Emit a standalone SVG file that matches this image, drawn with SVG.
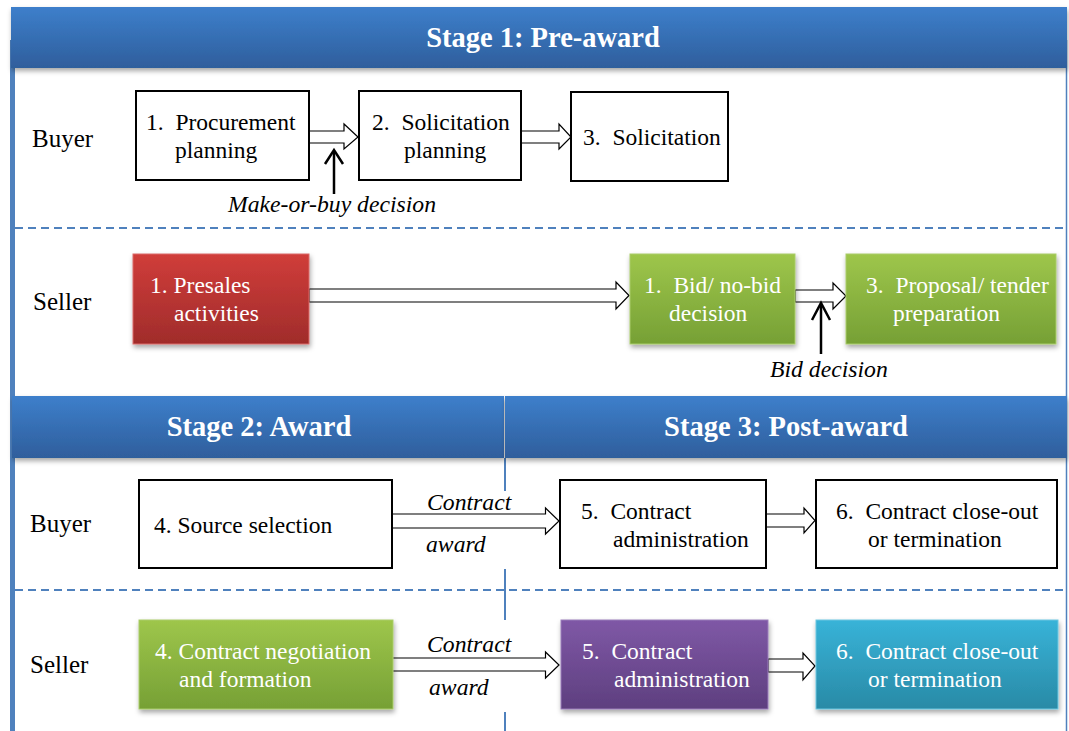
<svg xmlns="http://www.w3.org/2000/svg" width="1069" height="731" viewBox="0 0 1069 731">
<defs>
<linearGradient id="gHead" x1="0" y1="0" x2="0" y2="1"><stop offset="0" stop-color="#3d7fcb"/><stop offset="1" stop-color="#2f5e9c"/></linearGradient>
<linearGradient id="gRed" x1="0" y1="0" x2="0" y2="1"><stop offset="0" stop-color="#d03d3a"/><stop offset="1" stop-color="#a02c2b"/></linearGradient>
<linearGradient id="gGreen" x1="0" y1="0" x2="0" y2="1"><stop offset="0" stop-color="#9ec64b"/><stop offset="1" stop-color="#76a035"/></linearGradient>
<linearGradient id="gPurple" x1="0" y1="0" x2="0" y2="1"><stop offset="0" stop-color="#7f58a6"/><stop offset="1" stop-color="#5e3f7f"/></linearGradient>
<linearGradient id="gCyan" x1="0" y1="0" x2="0" y2="1"><stop offset="0" stop-color="#38b3d8"/><stop offset="1" stop-color="#298aa6"/></linearGradient>
<filter id="sh" x="-10%" y="-10%" width="120%" height="130%"><feDropShadow dx="1" dy="3" stdDeviation="2.5" flood-color="#000" flood-opacity="0.35"/></filter>
</defs>
<style>
.t{font-family:"Liberation Serif","Times New Roman",serif;font-size:23.5px;fill:#000;white-space:pre}
.w{fill:#fff}
.lab{font-family:"Liberation Serif","Times New Roman",serif;font-size:25px;fill:#000}
.it{font-family:"Liberation Serif","Times New Roman",serif;font-size:23.7px;font-style:italic;fill:#000}
.hd{font-family:"Liberation Serif","Times New Roman",serif;font-size:28.5px;font-weight:bold;fill:#fff;text-anchor:middle}
.box{fill:#fff;stroke:#000;stroke-width:2}
.blk{fill:#fff;stroke:#000;stroke-width:1.2}
.dash{stroke:#4f81bd;stroke-width:2;stroke-dasharray:8 5;fill:none}
.vline{stroke:#4f81bd;stroke-width:2;fill:none}
.up{stroke:#000;stroke-width:2.5;fill:none}
</style>

<g id="frame">
<rect x="10" y="40" width="5" height="691" fill="#4f81bd"/>
<line x1="1066.5" y1="40" x2="1066.5" y2="731" stroke="#4f81bd" stroke-width="1.5"/>
<line class="dash" x1="15" y1="228" x2="1066" y2="228"/>
<line class="dash" x1="15" y1="590" x2="1066" y2="590"/>
<line class="vline" x1="505" y1="458" x2="505" y2="491"/>
<line class="vline" x1="505" y1="569" x2="505" y2="620"/>
<line class="vline" x1="505" y1="712" x2="505" y2="731"/>
</g>

<g id="header1">
<rect x="11" y="7" width="1056" height="61" fill="url(#gHead)" filter="url(#sh)"/>
<text class="hd" x="543" y="47">Stage 1: Pre-award</text>
</g>
<g id="header2">
<rect x="12" y="396" width="492" height="62" fill="url(#gHead)" filter="url(#sh)"/>
<text class="hd" x="259" y="436">Stage 2: Award</text>
</g>
<g id="header3">
<rect x="505" y="396" width="562" height="62" fill="url(#gHead)" filter="url(#sh)"/>
<text class="hd" x="786" y="436">Stage 3: Post-award</text>
</g>

<g id="labels">
<text class="lab" x="32" y="147">Buyer</text>
<text class="lab" x="33" y="310">Seller</text>
<text class="lab" x="30" y="532">Buyer</text>
<text class="lab" x="30" y="673">Seller</text>
</g>

<g id="connectors">
<polygon class="blk" points="309,131 344,131 344,124 358,137 344,149 344,143 309,143"/>
<polygon class="blk" points="521,131 559,131 559,124 571,137 559,149 559,143 521,143"/>
<polygon class="blk" points="309,289 616,289 616,282 629,295.5 616,309 616,302 309,302"/>
<polygon class="blk" points="795,290 833,290 833,283 846,296 833,309 833,302 795,302"/>
<polygon class="blk" points="392,514 545.5,514 545.5,508 559,521 545.5,534 545.5,528 392,528"/>
<polygon class="blk" points="766,514 804,514 804,508 815,520.5 804,533 804,527 766,527"/>
<polygon class="blk" points="392,658 545.5,658 545.5,652 559,665 545.5,678 545.5,671 392,671"/>
<polygon class="blk" points="768,659 803,659 803,653 815,666 803,680 803,672 768,672"/>
<line class="up" x1="334" y1="194" x2="334" y2="151"/>
<polyline class="up" points="325,164 334,150 343,164"/>
<line class="up" x1="821" y1="354" x2="821" y2="304"/>
<polyline class="up" points="812,320 821,303 830,320"/>
<text class="it" x="228" y="212">Make-or-buy decision</text>
<text class="it" x="770" y="377">Bid decision</text>
<text class="it" x="427" y="510">Contract</text>
<text class="it" x="426" y="552">award</text>
<text class="it" x="427" y="652">Contract</text>
<text class="it" x="429" y="695">award</text>
</g>

<g id="n1">
<rect class="box" x="136" y="91" width="173" height="89"/>
<text class="t" x="146" y="130">1.  Procurement</text>
<text class="t" x="175" y="158">planning</text>
</g>
<g id="n2">
<rect class="box" x="359" y="91" width="162" height="89"/>
<text class="t" x="372" y="130">2.  Solicitation</text>
<text class="t" x="404" y="158">planning</text>
</g>
<g id="n3">
<rect class="box" x="571" y="92" width="157" height="89"/>
<text class="t" x="583" y="145">3.  Solicitation</text>
</g>
<g id="s1">
<rect x="133" y="254" width="176" height="90" fill="url(#gRed)" stroke="#d96b69" stroke-width="1" filter="url(#sh)"/>
<text class="t w" x="150" y="293">1. Presales</text>
<text class="t w" x="174" y="321">activities</text>
</g>
<g id="s2">
<rect x="630" y="254" width="165" height="90" fill="url(#gGreen)" stroke="#a9cc6a" stroke-width="1" filter="url(#sh)"/>
<text class="t w" x="644" y="293">1.  Bid/ no-bid</text>
<text class="t w" x="669" y="321">decision</text>
</g>
<g id="s3">
<rect x="846" y="254" width="210" height="90" fill="url(#gGreen)" stroke="#a9cc6a" stroke-width="1" filter="url(#sh)"/>
<text class="t w" x="866" y="293">3.  Proposal/ tender</text>
<text class="t w" x="893" y="321">preparation</text>
</g>
<g id="n4">
<rect class="box" x="139" y="480" width="253" height="88"/>
<text class="t" x="154" y="533">4. Source selection</text>
</g>
<g id="n5">
<rect class="box" x="560" y="480" width="206" height="88"/>
<text class="t" x="581" y="519">5.  Contract</text>
<text class="t" x="613" y="547">administration</text>
</g>
<g id="n6">
<rect class="box" x="816" y="480" width="241" height="88"/>
<text class="t" x="836" y="519">6.  Contract close-out</text>
<text class="t" x="868" y="547">or termination</text>
</g>
<g id="s4">
<rect x="139" y="620" width="254" height="89" fill="url(#gGreen)" stroke="#a9cc6a" stroke-width="1" filter="url(#sh)"/>
<text class="t w" x="155" y="659">4. Contract negotiation</text>
<text class="t w" x="179" y="687">and formation</text>
</g>
<g id="s5">
<rect x="561" y="620" width="207" height="89" fill="url(#gPurple)" stroke="#9a7dba" stroke-width="1" filter="url(#sh)"/>
<text class="t w" x="582" y="659">5.  Contract</text>
<text class="t w" x="614" y="687">administration</text>
</g>
<g id="s6">
<rect x="816" y="620" width="242" height="89" fill="url(#gCyan)" stroke="#6cc6e0" stroke-width="1" filter="url(#sh)"/>
<text class="t w" x="836" y="659">6.  Contract close-out</text>
<text class="t w" x="868" y="687">or termination</text>
</g>
</svg>
